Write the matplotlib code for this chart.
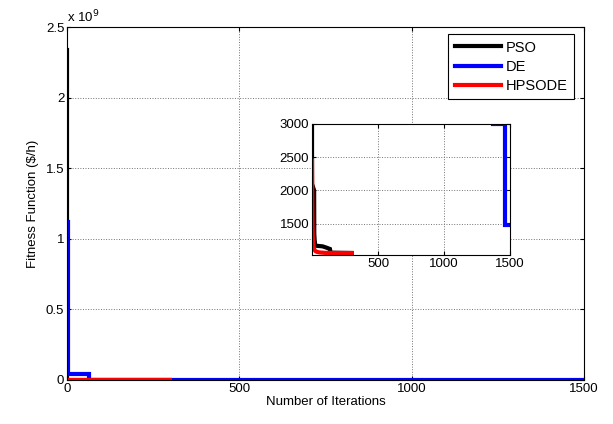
import matplotlib
matplotlib.use("Agg")
import matplotlib.pyplot as plt
from matplotlib.ticker import FuncFormatter

plt.rcParams['font.family'] = ['Liberation Sans', 'DejaVu Sans']

# convergence curves (iteration, fitness in $/h)
pso_iter = [0, 0, 16, 17, 20, 25, 80, 110, 136, 140, 300]
pso_fit = [2.34e9, 2100, 2000, 1350, 1250, 1170, 1160, 1140, 1120, 1065, 1060]

de_iter = [0, 2, 2, 4, 4, 65, 65, 1370, 1370, 1462, 1462, 1500]
de_fit = [1.12e9, 1.12e9, 0.3e9, 0.3e9, 0.04e9, 0.04e9, 2e5, 2e5,
          3005, 3005, 1480, 1480]

hpsode_iter = [0, 2, 4, 6, 10, 15, 25, 40, 60, 100, 200, 300]
hpsode_fit = [2450, 1900, 1500, 1300, 1180, 1120, 1090, 1075, 1068, 1062,
              1060, 1060]

labels = ['PSO', 'DE', 'HPSODE']
colors = ['black', 'blue', 'red']

main_xticks = [0, 500, 1000, 1500]
main_yticks = [0, 0.5e9, 1e9, 1.5e9, 2e9, 2.5e9]
inset_xticks = [500, 1000, 1500]
inset_yticks = [1500, 2000, 2500, 3000]

series = [(pso_iter, pso_fit), (de_iter, de_fit), (hpsode_iter, hpsode_fit)]
fs = 9.5

fig = plt.figure(figsize=(6.13, 4.24), dpi=100)
ax = fig.add_axes([0.1093, 0.1038, 0.8434, 0.8325])

lines = []
for (xs, ys), lab, col in zip(series, labels, colors):
    ln, = ax.plot(xs, ys, color=col, lw=3, label=lab, solid_joinstyle='miter')
    lines.append(ln)

ax.set_xlim(0, 1500)
ax.set_ylim(0, 2.5e9)
ax.set_xticks(main_xticks)
ax.set_yticks(main_yticks)
ax.yaxis.set_major_formatter(FuncFormatter(lambda v, p: '%g' % (v / 1e9)))
ax.grid(True, linestyle=':', color='0.45', lw=0.7)
ax.tick_params(direction='in', top=True, right=True, labelsize=fs, length=3,
               pad=2)
ax.set_xlabel('Number of Iterations', fontsize=fs, labelpad=1)
ax.set_ylabel('Fitness Function ($/h)', fontsize=fs, labelpad=5)
ax.text(0.0, 1.005, r'x 10$^{9}$', transform=ax.transAxes, fontsize=fs,
        ha='left', va='bottom')
for s in ax.spines.values():
    s.set_linewidth(0.8)

leg = ax.legend(handles=lines, loc='upper right', fontsize=10.5,
                bbox_to_anchor=(574 / 613, 1 - 34 / 424),
                bbox_transform=fig.transFigure, fancybox=False,
                edgecolor='black', framealpha=1, handlelength=3.2,
                borderpad=0.45, labelspacing=0.35, handletextpad=0.3,
                borderaxespad=0)
leg.get_frame().set_linewidth(0.8)
for h in leg.get_lines():
    h.set_linewidth(3)

# zoomed view of the tail of the convergence curves
ins = fig.add_axes([0.509, 0.3986, 0.323, 0.309])
for (xs, ys), col in zip(series, colors):
    ins.plot(xs, ys, color=col, lw=3, solid_joinstyle='miter')
ins.set_xlim(0, 1500)
ins.set_ylim(1030, 3000)
ins.set_xticks(inset_xticks)
ins.set_yticks(inset_yticks)
ins.grid(True, linestyle=':', color='0.45', lw=0.7)
ins.tick_params(direction='in', top=True, right=True, labelsize=fs, length=3,
                pad=2)
for s in ins.spines.values():
    s.set_linewidth(0.8)

fig.savefig('out.png', dpi=100)
